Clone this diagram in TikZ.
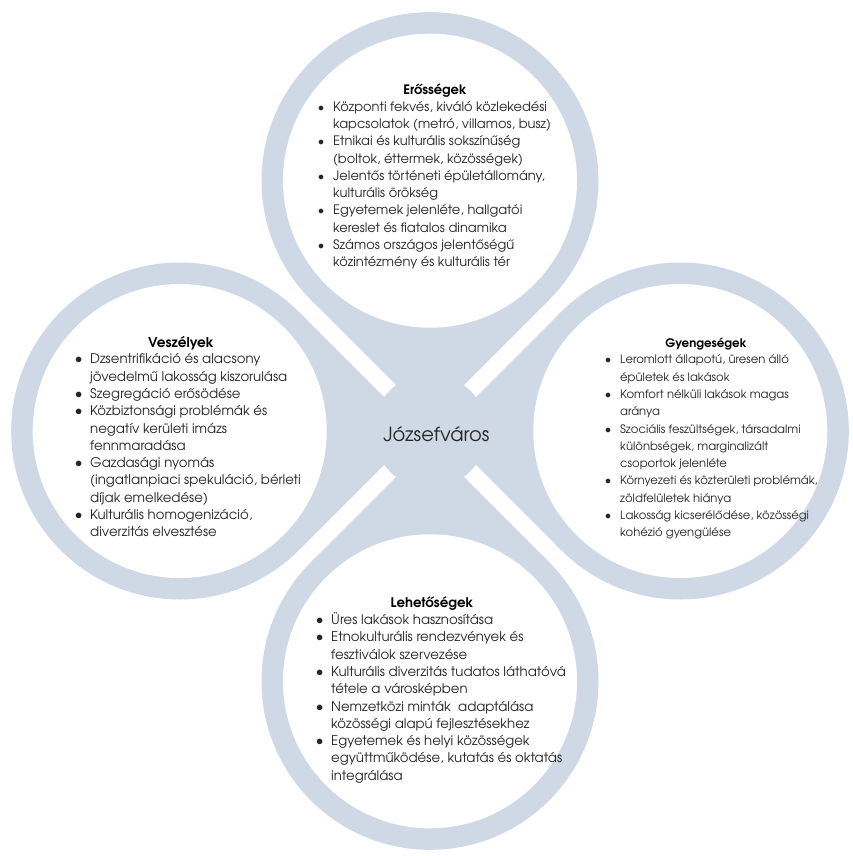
\documentclass[tikz,border=0pt]{standalone}
\usepackage{fontspec}
\setmainfont{TeX Gyre Adventor}
\usepackage{array}
\definecolor{ring}{RGB}{207,217,230}
\definecolor{txt}{RGB}{38,38,38}
\newcommand\blist[2]{{\fontsize{#1}{17.3}\selectfont\renewcommand{\arraystretch}{1}\begin{tabular}[t]{@{}p{14pt}@{}l@{}}#2\end{tabular}}}
\newcommand\bu{\hspace*{-1.2pt}$\bullet$}
\tikzset{
  ttl/.style={anchor=base, inner sep=0pt, font=\bfseries, text=black},
  body/.style={anchor=base west, inner sep=0pt, text=txt},
  ctr/.style={anchor=base, inner sep=0pt, font=\fontsize{19.5}{21}\selectfont, text=txt}
}
\begin{document}
\begin{tikzpicture}[x=1pt,y=-1pt]
\useasboundingbox (0,0) rectangle (852,856);
\def\R{168.5}\def\Ri{147}
% circle centres
\coordinate (C) at (430,431);
\coordinate (Ot) at (430,180.7);
\coordinate (Ob) at (430,681.3);
\coordinate (Ol) at (179.7,431);
\coordinate (Or) at (680.3,431);
% teardrop bodies
\fill[ring] (Ot) circle[radius=\R];
\fill[ring] (310.85,299.85) -- (430,419) -- (549.15,299.85) -- cycle;
\fill[ring] (Ob) circle[radius=\R];
\fill[ring] (310.85,562.15) -- (430,443) -- (549.15,562.15) -- cycle;
\fill[ring] (Ol) circle[radius=\R];
\fill[ring] (298.85,311.85) -- (418,431) -- (298.85,550.15) -- cycle;
\fill[ring] (Or) circle[radius=\R];
\fill[ring] (561.15,311.85) -- (442,431) -- (561.15,550.15) -- cycle;
% interiors
\fill[white] (Ot) circle[radius=\Ri];
\fill[white] (Ob) circle[radius=\Ri];
\fill[white] (Ol) circle[radius=\Ri];
\fill[white] (Or) circle[radius=\Ri];
% centre
\fill[ring] (C) circle[radius=57];
\node[ctr] (centre) at (436.3,441.5) {Józsefváros};

% top
\node[ttl, font=\fontsize{13}{15}\selectfont\bfseries] (tt) at (435,95) {Erősségek};
\node[body] (tb) at (319,111.2) {\blist{13}{
\bu & Központi fekvés, kiváló közlekedési\\
 & kapcsolatok (metró, villamos, busz)\\
\bu & Etnikai és kulturális sokszínűség\\
 & (boltok, éttermek, közösségek)\\
\bu & Jelentős történeti épületállomány,\\
 & kulturális örökség\\
\bu & Egyetemek jelenléte, hallgatói\\
 & kereslet és fiatalos dinamika\\
\bu & Számos országos jelentőségű\\
 & közintézmény és kulturális tér}};

% left
\node[ttl, font=\fontsize{13.6}{15}\selectfont\bfseries] (lt) at (181,347.5) {Veszélyek};
\node[body] (lb) at (76,363.8) {\blist{13.3}{
\bu & Dzsentrifikáció és alacsony\\
 & jövedelmű lakosság kiszorulása\\
\bu & Szegregáció erősödése\\
\bu & Közbiztonsági problémák és\\
 & negatív kerületi imázs\\
 & fennmaradása\\
\bu & Gazdasági nyomás\\
 & (ingatlanpiaci spekuláció, bérleti\\
 & díjak emelkedése)\\
\bu & Kulturális homogenizáció,\\
 & diverzitás elvesztése}};

% right
\node[ttl, font=\fontsize{11.8}{14}\selectfont\bfseries] (rt) at (706,347.5) {Gyengeségek};
\node[body] (rb) at (606,363.8) {\blist{11.6}{
\bu & Leromlott állapotú, üresen álló\\
 & épületek és lakások\\
\bu & Komfort nélküli lakások magas\\
 & aránya\\
\bu & Szociális feszültségek, társadalmi\\
 & különbségek, marginalizált\\
 & csoportok jelenléte\\
\bu & Környezeti és közterületi problémák,\\
 & zöldfelületek hiánya\\
\bu & Lakosság kicserélődése, közösségi\\
 & kohézió gyengülése}};

% bottom
\node[ttl, font=\fontsize{13.3}{15}\selectfont\bfseries] (bt) at (432,607.5) {Lehetőségek};
\node[body] (bb) at (317,624.5) {\blist{13.3}{
\bu & Üres lakások hasznosítása\\
\bu & Etnokulturális rendezvények és\\
 & fesztiválok szervezése\\
\bu & Kulturális diverzitás tudatos láthatóvá\\
 & tétele a városképben\\
\bu & Nemzetközi minták\ \ adaptálása\\
 & közösségi alapú fejlesztésekhez\\
\bu & Egyetemek és helyi közösségek\\
 & együttműködése, kutatás és oktatás\\
 & integrálása}};
\end{tikzpicture}
\end{document}
